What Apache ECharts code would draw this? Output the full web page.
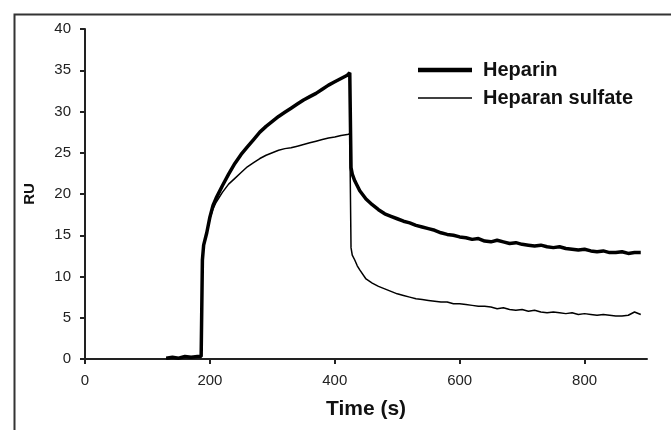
<!DOCTYPE html>
<html>
<head>
<meta charset="utf-8">
<script src="https://cdn.jsdelivr.net/npm/echarts@6/dist/echarts.min.js"></script>
<style>html,body{margin:0;padding:0;background:#fff}#c{width:671px;height:430px}</style>
</head>
<body>
<div id="c"></div>
<script>
// Time (s)
var timesHep = [130,140,150,160,170,180,186,188,190,195,200,205,210,220,230,240,250,260,270,280,290,300,310,320,330,340,350,360,370,380,390,400,410,420,424,426,428,432,436,440,450,460,470,480,490,500,510,520,530,540,550,560,570,580,590,600,610,620,630,640,650,660,670,680,690,700,710,720,730,740,750,760,770,780,790,800,810,820,830,840,850,860,870,880,890];
var heparin = [0.1,0.2,0.1,0.3,0.2,0.3,0.3,12.0,13.8,15.3,17.2,18.6,19.5,21.0,22.4,23.7,24.8,25.7,26.6,27.5,28.2,28.8,29.4,29.9,30.4,30.9,31.4,31.8,32.2,32.7,33.2,33.6,34.0,34.4,34.7,23.2,22.4,21.6,21.0,20.4,19.4,18.7,18.1,17.6,17.3,17.0,16.7,16.5,16.2,16.0,15.8,15.6,15.3,15.1,15.0,14.8,14.7,14.5,14.6,14.3,14.2,14.4,14.2,14.0,14.1,13.9,13.8,13.7,13.8,13.6,13.5,13.6,13.4,13.3,13.2,13.3,13.1,13.0,13.1,12.9,12.9,13.0,12.8,12.9,12.9];
var heparanSulfate = [0.1,0.2,0.1,0.3,0.2,0.3,0.3,12.0,13.8,15.3,17.0,18.2,19.0,20.2,21.2,21.9,22.6,23.3,23.8,24.3,24.7,25.0,25.3,25.5,25.6,25.8,26.0,26.2,26.4,26.6,26.8,26.9,27.1,27.2,27.3,13.5,12.6,12.0,11.3,10.8,9.7,9.2,8.8,8.5,8.2,7.9,7.7,7.5,7.3,7.2,7.1,7.0,6.9,6.9,6.7,6.7,6.6,6.5,6.4,6.4,6.3,6.1,6.2,6.0,5.9,6.0,5.8,5.9,5.7,5.6,5.7,5.6,5.5,5.6,5.4,5.5,5.4,5.3,5.4,5.3,5.2,5.2,5.3,5.7,5.4];
var seriesNames = ['Heparin','Heparan sulfate'];
var xTitle = 'Time (s)';
var yTitle = 'RU';

function pairs(t, v){ return t.map(function(x,i){ return [x, v[i]]; }); }

var chart = echarts.init(document.getElementById('c'));
var font = 'Arial, "Liberation Sans", sans-serif';
chart.setOption({
  animation: false,
  backgroundColor: '#fff',
  grid: {left: 85, right: 24, top: 29, bottom: 71, containLabel: false},
  legend: {
    orient: 'vertical', left: 413, top: 55, itemWidth: 54, itemHeight: 14, itemGap: 8,
    textStyle: {fontFamily: font, fontWeight: 'bold', fontSize: 20, color: '#111', padding: [0,0,0,6]},
    data: [
      {name: seriesNames[0], icon: 'path://M0,0H54V4.5H0Z', itemStyle: {color: '#000'}},
      {name: seriesNames[1], icon: 'path://M0,0H54V1.5H0Z', itemStyle: {color: '#000'}}
    ]
  },
  xAxis: {
    type: 'value', min: 0, max: 900, interval: 200,
    name: xTitle, nameLocation: 'middle', nameGap: 40,
    nameTextStyle: {fontFamily: font, fontWeight: 'bold', fontSize: 21, color: '#111'},
    axisLine: {lineStyle: {color: '#222', width: 2}},
    axisTick: {show: true, length: 5, lineStyle: {color: '#222', width: 2}},
    axisLabel: {fontFamily: font, fontSize: 15, color: '#222', margin: 14, showMaxLabel: false},
    splitLine: {show: false}
  },
  yAxis: {
    type: 'value', min: 0, max: 40, interval: 5,
    name: yTitle, nameLocation: 'middle', nameGap: 48, nameRotate: 90,
    nameTextStyle: {fontFamily: font, fontWeight: 'bold', fontSize: 15, color: '#111'},
    axisLine: {show: true, lineStyle: {color: '#222', width: 2}},
    axisTick: {show: true, length: 5, lineStyle: {color: '#222', width: 2}},
    axisLabel: {fontFamily: font, fontSize: 15, color: '#222', margin: 14},
    splitLine: {show: false}
  },
  graphic: [{
    type: 'rect', left: 12, top: 12, silent: true, z: -1,
    shape: {x: 0, y: 0, width: 700, height: 500},
    style: {fill: 'none', stroke: '#333', lineWidth: 2}
  }],
  series: [
    {name: seriesNames[0], type: 'line', data: pairs(timesHep, heparin), showSymbol: false, symbol: 'none',
     lineStyle: {color: '#000', width: 3.5}, itemStyle: {color: '#000'}},
    {name: seriesNames[1], type: 'line', data: pairs(timesHep, heparanSulfate), showSymbol: false, symbol: 'none',
     lineStyle: {color: '#000', width: 1.5}, itemStyle: {color: '#000'}}
  ]
});
</script>
</body>
</html>
